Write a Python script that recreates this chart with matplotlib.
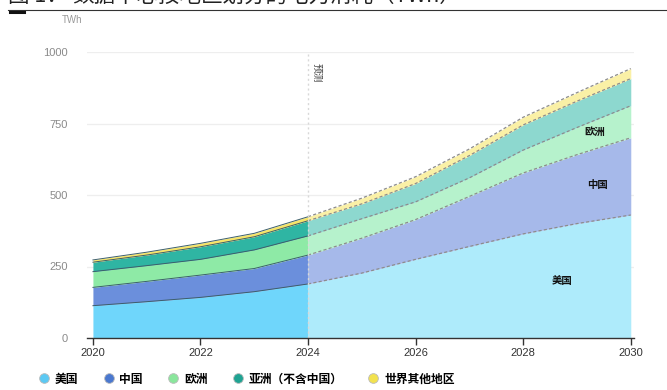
import matplotlib
matplotlib.use("Agg")
import matplotlib.pyplot as plt
from matplotlib.lines import Line2D
import numpy as np

plt.rcParams['font.family'] = ['Noto Sans CJK SC', 'DejaVu Sans']

# Data centre electricity consumption by region, TWh (2025 onward projected)
years = [2020, 2021, 2022, 2023, 2024, 2025, 2026, 2027, 2028, 2029, 2030]
us = [113, 127, 142, 162, 189, 227, 275, 320, 364, 400, 430]
china = [64, 71, 78, 81, 101, 122, 139, 175, 213, 241, 270]
europe = [55, 55, 55, 65, 67, 68, 62, 65, 80, 95, 112]
asia_ex_china = [33, 37, 44, 46, 53, 52, 64, 78, 88, 92, 95]
rest_of_world = [8, 10, 12, 12, 14, 20, 24, 23, 27, 30, 35]

series_names = ['美国', '中国', '欧洲', '亚洲（不含中国）', '世界其他地区']
forecast_start = 2024
y_ticks = [0, 250, 500, 750, 1000]
x_ticks = [2020, 2022, 2024, 2026, 2028, 2030]

hist_colors = ['#6fd6fb', '#6b8fdc', '#8eeaa6', '#2fb5a3', '#f6e468']
proj_colors = ['#aeebfb', '#a6b9ea', '#b6f2cc', '#8dd8cf', '#faf0a6']
legend_colors = ['#5cc9f3', '#4a78cf', '#8ae69c', '#1fa392', '#f2e24f']

fig = plt.figure(figsize=(6.67, 3.9), dpi=100)
ax = fig.add_axes([87 / 667, 1 - 338 / 390, (634 - 87) / 667, 286 / 390])

x = np.array(years, dtype=float)
layers = np.array([us, china, europe, asia_ex_china, rest_of_world], dtype=float)
tops = np.cumsum(layers, axis=0)
bottoms = np.vstack([np.zeros(len(years)), tops[:-1]])

hist = x <= forecast_start
proj = x >= forecast_start

for i in range(len(layers)):
    ax.fill_between(x[hist], bottoms[i][hist], tops[i][hist],
                    color=hist_colors[i], linewidth=0, zorder=2)
    ax.plot(x[hist], tops[i][hist], color='#3d5f6b', lw=0.7, zorder=3)
    ax.fill_between(x[proj], bottoms[i][proj], tops[i][proj],
                    color=proj_colors[i], linewidth=0, zorder=2)
    ax.plot(x[proj], tops[i][proj], color='#8c8c8c', lw=0.9,
            dashes=(2.5, 1.8), zorder=3)

# forecast divider
ax.plot([forecast_start, forecast_start], [0, 1000], color='#d8d8d8',
        lw=1.0, ls=(0, (1.5, 2)), zorder=4)
ax.text(forecast_start + 0.07, 962, '预测', rotation=-90, fontsize=7,
        color='#444444', va='top', ha='left', zorder=5)

# labels inside the projected areas
for name, lx, ly in [('美国', 2028.72, 200), ('中国', 2029.39, 536),
                     ('欧洲', 2029.33, 722)]:
    ax.text(lx, ly, name, fontsize=7.5, fontweight='bold', ha='center',
            va='center', color='#111111', zorder=5)

ax.set_xlim(2019.89, 2030.06)
ax.set_ylim(0, 1000)
ax.set_yticks(y_ticks)
ax.set_xticks(x_ticks)
ax.set_xticklabels([str(t) for t in x_ticks], fontsize=8, color='#333333',
                   family=['Liberation Sans', 'DejaVu Sans'])
ax.set_yticklabels([str(t) for t in y_ticks], fontsize=8, color='#8a8a8a',
                   family=['Liberation Sans', 'DejaVu Sans'])
ax.tick_params(axis='y', length=0, pad=14)
ax.tick_params(axis='x', length=5, width=1.0, color='#333333', pad=2)
ax.grid(axis='y', color='#eeeeee', lw=0.9, zorder=0)
ax.set_axisbelow(True)
for s in ['left', 'right', 'top']:
    ax.spines[s].set_visible(False)
ax.spines['bottom'].set_color('#333333')
ax.spines['bottom'].set_linewidth(1.0)
ax.spines['bottom'].set_zorder(6)

fig.text(62 / 667, 1 - 20 / 390, 'TWh', fontsize=7, color='#999999',
         ha='left', va='center', family=['Liberation Sans', 'DejaVu Sans'])

# header: title running off the top edge, rule below it
fig.text(8 / 667, 1 - 1.5 / 390, '图 1：', fontsize=15.5, color='#222222',
         ha='left', va='baseline')
fig.text(72 / 667, 1 - 1.5 / 390, '数据中心按地区划分的电力消耗（TWh）',
         fontsize=15.5, color='#222222', ha='left', va='baseline')
fig.add_artist(Line2D([8 / 667, 1.0], [1 - 10 / 390, 1 - 10 / 390],
                      transform=fig.transFigure, color='#333333', lw=0.8))
fig.add_artist(Line2D([10 / 667, 24 / 667], [1 - 12 / 390, 1 - 12 / 390],
                      transform=fig.transFigure, color='#111111', lw=2.2))

# legend
handles = [Line2D([0], [0], marker='o', ls='none', markersize=7,
                  markerfacecolor=c, markeredgecolor='#bbbbbb',
                  markeredgewidth=0.6) for c in legend_colors]
leg = fig.legend(handles, series_names, loc='center left',
                 bbox_to_anchor=(26 / 667, 1 - 379 / 390), ncol=5,
                 frameon=False, handletextpad=0.3, columnspacing=2.0,
                 handlelength=1.2,
                 prop={'family': ['Noto Sans CJK SC', 'DejaVu Sans'],
                       'weight': 'bold', 'size': 8.5})

fig.savefig('out.png', dpi=100)
